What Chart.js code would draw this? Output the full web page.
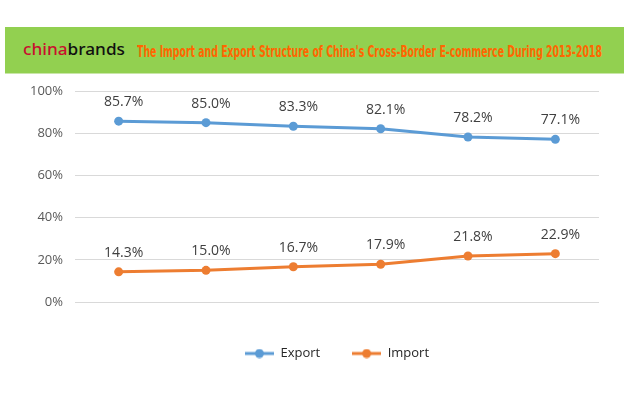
<!DOCTYPE html>
<html>
<head>
<meta charset="utf-8">
<script src="https://cdn.jsdelivr.net/npm/chart.js@4/dist/chart.umd.min.js"></script>
<style>
  body { margin: 0; background: #fff; }
  #wrap { position: relative; width: 644px; height: 399px; overflow: hidden; }
  #chart { position: absolute; left: 0; top: 0; }
  #banner {
    position: absolute; left: 5px; top: 27px; width: 619px; height: 46px;
    background: #92d050; border-bottom: 1px solid #c9e6a8;
  }
  #logo {
    position: absolute; left: 18px; top: 13px; white-space: nowrap;
    font-family: "Noto Sans", sans-serif; font-size: 16px; line-height: 18px;
    font-weight: 500; transform-origin: 0 50%;
  }
  #logo .red { color: #c8102e; }
  #logo .blk { color: #111; }
  #title {
    position: absolute; left: 132px; top: 16px; white-space: nowrap;
    font-family: "DejaVu Sans Condensed", "DejaVu Sans", sans-serif; font-weight: bold;
    font-size: 15px; line-height: 18px; color: #ff6600;
    transform-origin: 0 50%;
  }
</style>
</head>
<body>
<div id="wrap">
  <canvas id="chart" width="644" height="399"></canvas>
  <div id="banner">
    <span id="logo"><span class="red">china</span><span class="blk">brands</span></span>
    <span id="title">The Import and Export Structure of China's Cross-Border E-commerce During 2013-2018</span>
  </div>
</div>
<script>
const years = ["2013", "2014", "2015", "2016", "2017", "2018"];
const exportShare = [85.7, 85.0, 83.3, 82.1, 78.2, 77.1];
const importShare = [14.3, 15.0, 16.7, 17.9, 21.8, 22.9];
const yTicks = [0, 20, 40, 60, 80, 100];

const blue = "#5b9bd5";
const orange = "#ed7d31";

// squeeze banner texts to the widths seen in the picture
function fitWidth(el, w) {
  const s = w / el.getBoundingClientRect().width;
  el.style.transform = `scaleX(${s})`;
}
fitWidth(document.getElementById("logo"), 102);
fitWidth(document.getElementById("title"), 465);

// line with a dot, used only for the legend entries
function legendMark(color) {
  const c = document.createElement("canvas");
  c.width = 29;
  c.height = 10;
  const g = c.getContext("2d");
  g.strokeStyle = color;
  g.lineWidth = 3;
  g.beginPath();
  g.moveTo(0, 5);
  g.lineTo(29, 5);
  g.stroke();
  g.fillStyle = color;
  g.beginPath();
  g.arc(14.5, 5, 4.5, 0, Math.PI * 2);
  g.fill();
  return c;
}
const legendMarks = [legendMark(blue), legendMark(orange)];

const valueLabels = {
  id: "valueLabels",
  afterDatasetsDraw(chart) {
    const ctx = chart.ctx;
    ctx.save();
    ctx.font = "14px 'Open Sans', sans-serif";
    ctx.fillStyle = "#404040";
    ctx.textAlign = "center";
    ctx.textBaseline = "middle";
    chart.data.datasets.forEach((ds, i) => {
      chart.getDatasetMeta(i).data.forEach((pt, j) => {
        ctx.fillText(ds.data[j].toFixed(1) + "%", pt.x + 5, pt.y - 19);
      });
    });
    ctx.restore();
  },
};

Chart.defaults.font.family = "'Open Sans', sans-serif";

new Chart(document.getElementById("chart"), {
  type: "line",
  data: {
    labels: years,
    datasets: [
      {
        label: "Export",
        data: exportShare,
        borderColor: blue,
        backgroundColor: blue,
        borderWidth: 3,
        pointRadius: 4.5,
        pointBorderWidth: 0,
        pointStyle: "circle",
        tension: 0,
      },
      {
        label: "Import",
        data: importShare,
        borderColor: orange,
        backgroundColor: orange,
        borderWidth: 3,
        pointRadius: 4.5,
        pointBorderWidth: 0,
        pointStyle: "circle",
        tension: 0,
      },
    ],
  },
  options: {
    responsive: false,
    animation: false,
    layout: { padding: { top: 91, right: 45, bottom: 29, left: 0 } },
    plugins: {
      tooltip: { enabled: false },
      legend: {
        position: "bottom",
        fullSize: false,
        labels: {
          usePointStyle: true,
          pointStyleWidth: 29,
          padding: 32,
          color: "#262626",
          font: { size: 13 },
          generateLabels(chart) {
            return chart.data.datasets.map((ds, i) => ({
              text: ds.label,
              pointStyle: legendMarks[i],
              fillStyle: ds.borderColor,
              strokeStyle: ds.borderColor,
              lineWidth: 0,
              datasetIndex: i,
              fontColor: "#262626",
            }));
          },
        },
      },
    },
    scales: {
      x: {
        offset: true,
        grid: { display: false, drawTicks: false },
        border: { display: false },
        ticks: { color: "#595959", font: { size: 13 }, padding: 10 },
        afterFit(scale) { scale.height = 13; },
      },
      y: {
        min: 0,
        max: 100,
        afterBuildTicks(scale) { scale.ticks = yTicks.map((v) => ({ value: v })); },
        grid: { color: "#d9d9d9", drawTicks: false },
        border: { display: false },
        ticks: {
          color: "#595959",
          font: { size: 13 },
          padding: 12,
          callback: (v) => v + "%",
        },
        afterFit(scale) { scale.width = 75; },
      },
    },
  },
  plugins: [valueLabels],
});
</script>
</body>
</html>
